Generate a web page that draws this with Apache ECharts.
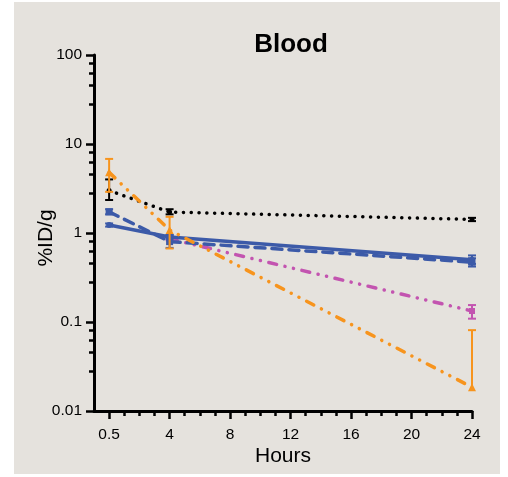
<!DOCTYPE html>
<html>
<head>
<meta charset="utf-8">
<script src="https://cdn.jsdelivr.net/npm/echarts@6/dist/echarts.min.js"></script>
<style>
html,body{margin:0;padding:0;background:#fff;}
#chart{width:508px;height:477px;}
</style>
</head>
<body>
<div id="chart"></div>
<script>
// ---- data ----
const hourLabels = ['0.5', '4', '24'];          // sampling times (h)
const hourPositions = [0, 4, 24];               // where those times sit on the axis
const xTickValues = [0, 4, 8, 12, 16, 20, 24];
const xTickLabels = ['0.5', '4', '8', '12', '16', '20', '24'];
const xMinorTicks = [1, 2, 3, 5, 6, 7, 9, 10, 11, 13, 14, 15, 17, 18, 19, 21, 22, 23];
const yTickValues = [0.01, 0.1, 1, 10, 100];
const yTickLabels = ['0.01', '0.1', '1', '10', '100'];
const yMinorMultipliers = [2.8, 4.6, 6.3, 8];

const blackMean = [3.0, 1.72, 1.42];
const blackLo   = [2.35, 1.62, 1.36];
const blackHi   = [4.0, 1.85, 1.48];

const orangeMean = [4.8, 1.08, 0.0185];
const orangeLo   = [2.9, 0.67, 0.0185];
const orangeHi   = [6.8, 1.52, 0.081];

const magentaMean = [null, 0.86, 0.133];
const magentaLo   = [null, 0.83, 0.109];
const magentaHi   = [null, 0.89, 0.155];

const blueDashMean = [1.73, 0.80, 0.47];
const blueDashLo   = [1.62, 0.68, 0.42];
const blueDashHi   = [1.85, 0.95, 0.52];

const blueSolidMean = [1.23, 0.90, 0.50];
const blueSolidLo   = [1.18, 0.86, 0.45];
const blueSolidHi   = [1.28, 0.95, 0.56];

// ---- build ----
const yMinorTicks = [];
[0.01, 0.1, 1, 10].forEach(d => yMinorMultipliers.forEach(m => yMinorTicks.push(+(d * m).toPrecision(3))));

const C = {
  black: '#000000',
  orange: '#F7941D',
  magenta: '#C354B0',
  blue: '#3C5AA8',
  bg: '#E5E2DD'
};

function pts(mean) {
  return hourPositions.map((x, i) => mean[i] == null ? null : [x, mean[i]]).filter(p => p);
}
function errPts(mean, lo, hi) {
  return hourPositions.map((x, i) => mean[i] == null ? null : [x, lo[i], hi[i], mean[i]]).filter(p => p);
}
function errSeries(mean, lo, hi, color, lw, z) {
  return {
    type: 'custom',
    xAxisIndex: 0, yAxisIndex: 0,
    z: z,
    silent: true,
    data: errPts(mean, lo, hi),
    encode: { x: 0, y: [1, 2] },
    renderItem: function (params, api) {
      const x = api.value(0), l = api.value(1), h = api.value(2), m = api.value(3);
      const pl = api.coord([x, l]), ph = api.coord([x, h]);
      const cw = 4;
      const style = { stroke: color, lineWidth: lw, fill: null };
      const children = [
        { type: 'line', shape: { x1: pl[0], y1: pl[1], x2: ph[0], y2: ph[1] }, style: style },
        { type: 'line', shape: { x1: ph[0] - cw, y1: ph[1], x2: ph[0] + cw, y2: ph[1] }, style: style }
      ];
      if (l < m) {
        children.push({ type: 'line', shape: { x1: pl[0] - cw, y1: pl[1], x2: pl[0] + cw, y2: pl[1] }, style: style });
      }
      return { type: 'group', children: children };
    }
  };
}
function lineSeries(mean, color, width, dash, symbol, size, z) {
  return {
    type: 'line',
    xAxisIndex: 0, yAxisIndex: 0,
    z: z,
    data: pts(mean),
    symbol: symbol,
    symbolSize: size,
    showSymbol: true,
    clip: false,
    itemStyle: { color: color, borderWidth: 0 },
    lineStyle: { color: color, width: width, type: dash, cap: 'round', join: 'round' },
    emphasis: { disabled: true },
    animation: false
  };
}

const chart = echarts.init(document.getElementById('chart'), null, { renderer: 'canvas' });
const font = 'Liberation Sans, Arial, Helvetica, sans-serif';

const option = {
  animation: false,
  backgroundColor: '#ffffff',
  graphic: [{
    type: 'rect', z: -10, silent: true,
    shape: { x: 14, y: 2, width: 486, height: 472 },
    style: { fill: C.bg }
  }],
  title: {
    text: 'Blood',
    left: 286, top: 27, textAlign: 'center',
    textStyle: { fontFamily: font, fontWeight: 'bold', fontSize: 26, color: '#000' }
  },
  grid: { left: 94, right: 36, top: 55, bottom: 66, containLabel: false },
  xAxis: [{
    type: 'value', min: -1, max: 24, position: 'bottom',
    name: 'Hours', nameLocation: 'middle', nameGap: 35, nameMoveOverlap: false,
    nameTextStyle: { fontFamily: font, fontSize: 21, color: '#000' },
    axisLine: { show: true, onZero: false, lineStyle: { color: '#000', width: 3 } },
    axisTick: { show: true, customValues: xTickValues, length: 8, lineStyle: { color: '#000', width: 2.5 } },
    axisLabel: {
      show: true, customValues: xTickValues, margin: 16,
      fontFamily: font, fontSize: 15.5, color: '#000',
      formatter: v => xTickLabels[xTickValues.indexOf(v)]
    },
    splitLine: { show: false }
  }, {
    type: 'value', min: -1, max: 24, position: 'bottom', offset: 0,
    axisLine: { show: false, onZero: false },
    axisTick: { show: true, customValues: xMinorTicks, length: 5, lineStyle: { color: '#000', width: 2.5 } },
    axisLabel: { show: false },
    splitLine: { show: false }
  }],
  yAxis: [{
    type: 'log', logBase: 10, min: 0.01, max: 100, position: 'left',
    name: '%ID/g', nameLocation: 'middle', nameGap: 37, nameRotate: 90, nameMoveOverlap: false,
    nameTextStyle: { fontFamily: font, fontSize: 21, color: '#000', padding: [0, 10, 0, 0] },
    axisLine: { show: true, onZero: false, lineStyle: { color: '#000', width: 3 } },
    axisTick: { show: true, customValues: yTickValues, length: 8, lineStyle: { color: '#000', width: 2.5 } },
    axisLabel: {
      show: true, customValues: yTickValues, margin: 12,
      fontFamily: font, fontSize: 15.5, color: '#000',
      formatter: v => {
        const i = yTickValues.findIndex(t => Math.abs(Math.log10(t) - Math.log10(v)) < 1e-6);
        return i >= 0 ? yTickLabels[i] : '';
      }
    },
    splitLine: { show: false }
  }, {
    type: 'log', logBase: 10, min: 0.01, max: 100, position: 'left', offset: 0,
    axisLine: { show: false, onZero: false },
    axisTick: { show: true, customValues: yMinorTicks, length: 5, lineStyle: { color: '#000', width: 2.5 } },
    axisLabel: { show: false },
    splitLine: { show: false }
  }],
  series: [
    lineSeries(blackMean, C.black, 3.5, [0.1, 7.7], 'circle', 5, 2),
    errSeries(blackMean, blackLo, blackHi, C.black, 2, 2),
    lineSeries(magentaMean, C.magenta, 3.5, [8, 8.6, 0.1, 8.6, 0.1, 8.6], 'rect', 6, 3),
    errSeries(magentaMean, magentaLo, magentaHi, C.magenta, 2, 3),
    lineSeries(blueDashMean, C.blue, 3.5, [10, 7], 'rect', 7, 4),
    errSeries(blueDashMean, blueDashLo, blueDashHi, C.blue, 2, 4),
    lineSeries(blueSolidMean, C.blue, 3.5, 'solid', 'circle', 6, 5),
    errSeries(blueSolidMean, blueSolidLo, blueSolidHi, C.blue, 2, 5),
    lineSeries(orangeMean, C.orange, 3.5, [8, 8.6, 0.1, 8.6, 0.1, 8.6], 'triangle', 8, 6),
    errSeries(orangeMean, orangeLo, orangeHi, C.orange, 2, 6)
  ]
};
chart.setOption(option);
</script>
</body>
</html>
